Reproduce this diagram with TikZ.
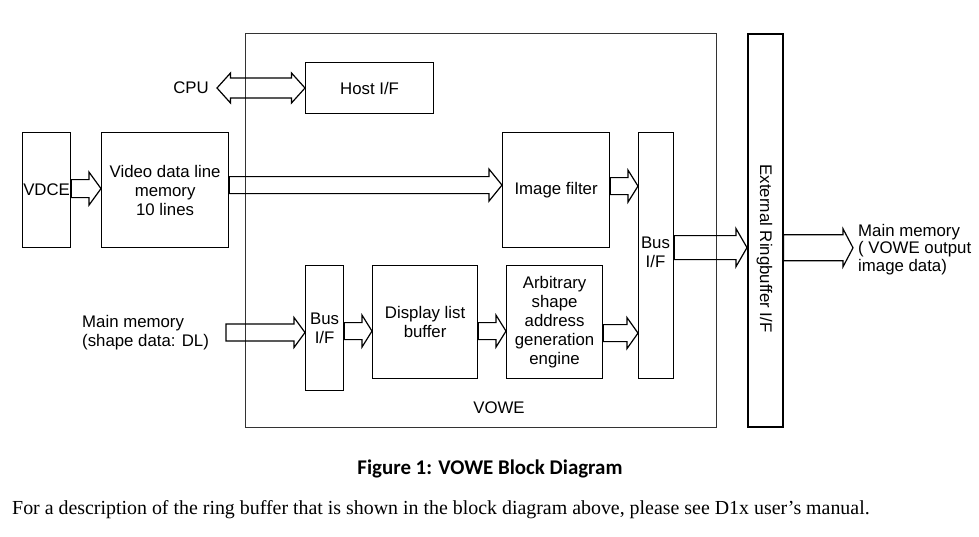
\documentclass[tikz,border=0pt]{standalone}
\usepackage{fontspec}
\setmainfont{Liberation Sans}
\newfontfamily\capfont{Carlito}
\newfontfamily\bodyfont{Liberation Serif}
\usetikzlibrary{calc}

% block arrow from #1 to #2: shaft half height, head half height, head length
\newcommand{\fatarrow}[5]{%
  \draw[fatline] let \p1=(#1), \p2=(#2) in
    (\x1,\y1+#3) -- (\x2-#5,\y1+#3) -- (\x2-#5,\y1+#4) -- (\x2,\y1)
    -- (\x2-#5,\y1-#4) -- (\x2-#5,\y1-#3) -- (\x1,\y1-#3) -- cycle;}
% same, with a head on both ends
\newcommand{\dblarrow}[5]{%
  \draw[fatline] let \p1=(#1), \p2=(#2) in
    (\x1,\y1) -- (\x1+#5,\y1+#4) -- (\x1+#5,\y1+#3) -- (\x2-#5,\y1+#3)
    -- (\x2-#5,\y1+#4) -- (\x2,\y1) -- (\x2-#5,\y1-#4) -- (\x2-#5,\y1-#3)
    -- (\x1+#5,\y1-#3) -- (\x1+#5,\y1-#4) -- cycle;}

\begin{document}
\begin{tikzpicture}[x=1pt,y=-1pt,
    blockbox/.style={draw, line width=1.2pt, anchor=north west, inner sep=0pt,
      align=center, font=\fontsize{16.8}{19}\selectfont},
    fatline/.style={draw, line width=1.2pt, line join=miter},
    plain/.style={inner sep=0pt, font=\fontsize{16.8}{19}\selectfont}]
		\useasboundingbox (0,0) rectangle (979,536);

		% The VOWE frame and the ring buffer bar
		\node[blockbox, draw=black!80, minimum width=471pt, minimum height=394pt] (vowe) at (245,33) {};
		\node[blockbox, line width=1.6pt, minimum width=35pt, minimum height=393pt] (ext) at (747,33) {};
		\node[plain, rotate=-90] (extlabel) at (764.5,248.5) {External Ringbuffer I/F};
		\node[plain] (vowelabel) at (499,408) {VOWE};

		% Boxes of the upper row
		\node[blockbox, minimum width=128pt, minimum height=51pt] (host) at (305,62) {Host I/F};
		\node[blockbox, minimum width=48pt, minimum height=115pt] (vdce) at (22,132) {VDCE};
		\node[blockbox, minimum width=127pt, minimum height=115pt] (video) at (101,132) {Video data line\\memory\\10 lines};
		\node[blockbox, minimum width=107pt, minimum height=115pt] (filter) at (502,132) {Image filter};
		\node[blockbox, minimum width=35pt, minimum height=246pt] (busr) at (638,132) {};
		\node[plain, align=center] (busrlabel) at (655.5,252.5) {Bus\\I/F};

		% Boxes of the lower row
		\node[blockbox, minimum width=38pt, minimum height=125pt] (busl) at (305,265) {Bus\\I/F};
		\node[blockbox, minimum width=105pt, minimum height=113pt] (dlb) at (372,265) {Display list\\buffer};
		\node[blockbox, minimum width=96pt, minimum height=113pt] (arb) at (506,265) {Arbitrary\\shape\\address\\generation\\engine};

		% Outside texts
		\node[plain] (cpu) at (191,88) {CPU};
		\node[plain, anchor=west, align=left] (mmin) at (82,332.5) {Main memory\\(shape data: DL)};
		\node[plain, anchor=west, align=left, font=\fontsize{16.8}{17.5}\selectfont] (mmout) at (858,249.5) {Main memory\\( VOWE output\\image data)};
		\coordinate (cpuend) at (217,88);
		\coordinate (mminend) at (226,332.5);
		\coordinate (mmoutend) at (853,247);

		% Block arrows
		\dblarrow{cpuend}{host.west}{10pt}{15pt}{13.5pt}
		\fatarrow{[yshift=1.5pt]vdce.east}{video.west}{9pt}{16.5pt}{12pt}
		\fatarrow{[yshift=5pt]video.east}{filter.west}{8.5pt}{16pt}{13pt}
		\fatarrow{[yshift=4pt]filter.east}{busr.west}{8.5pt}{16pt}{10pt}
		\fatarrow{[yshift=8pt]busr.east}{ext.west}{12pt}{19pt}{11pt}
		\fatarrow{[yshift=-17.5pt]ext.east}{mmoutend}{13pt}{19pt}{10pt}
		\fatarrow{mminend}{busl.west}{8.5pt}{15pt}{11pt}
		\fatarrow{[yshift=-3pt]busl.east}{dlb.west}{8.5pt}{16pt}{10pt}
		\fatarrow{[yshift=-9pt]dlb.east}{arb.west}{8.5pt}{16pt}{10pt}
		\fatarrow{[yshift=-11pt]arb.east}{busr.west}{8.5pt}{15.5pt}{11pt}

		% Caption and the sentence below it
		\node[inner sep=0pt, font=\capfont\bfseries\fontsize{20.9}{24}\selectfont] (caption) at (490,469) {Figure 1: VOWE Block Diagram};
		\node[inner sep=0pt, anchor=west, font=\bodyfont\fontsize{19.9}{23}\selectfont] (body) at (12,510) {For a description of the ring buffer that is shown in the block diagram above, please see D1x user’s manual.};
	\end{tikzpicture}
\end{document}
